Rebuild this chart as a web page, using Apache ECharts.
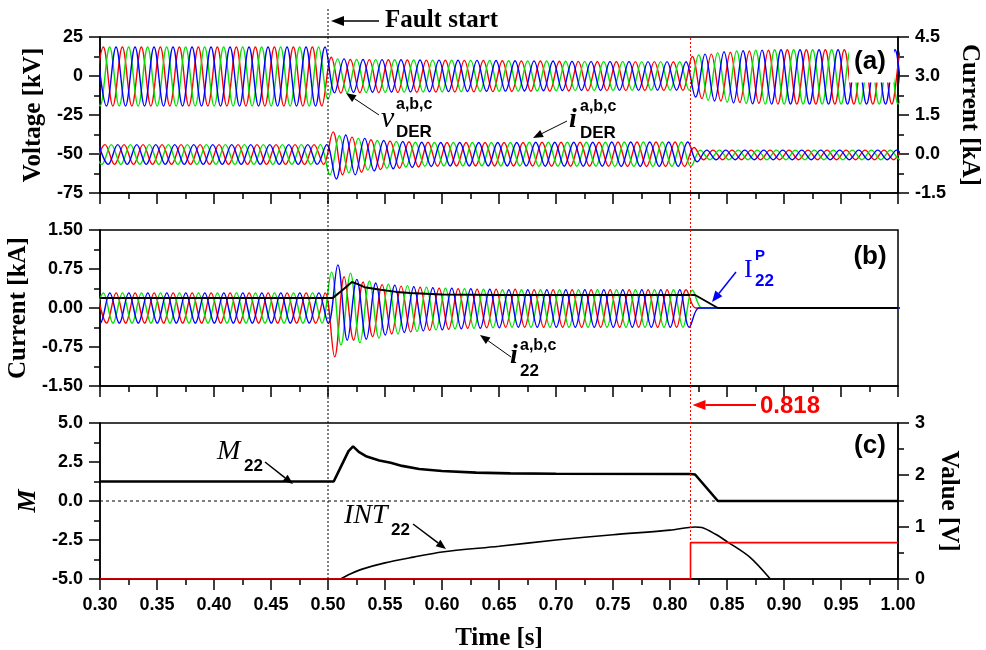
<!DOCTYPE html>
<html><head><meta charset="utf-8">
<script src="https://cdn.jsdelivr.net/npm/echarts@6/dist/echarts.min.js"></script>
<style>html,body{margin:0;padding:0;background:#fff}#c{width:986px;height:650px}</style>
</head><body><div id="c"></div>
<script>
// ---------- data ----------
const FAULT_T = 0.50, TRIP_T = 0.818;
const HALF = 1 / 120;                 // half period of the 60 Hz waveforms [s]
const xTicks = [0.30, 0.35, 0.40, 0.45, 0.50, 0.55, 0.60, 0.65, 0.70, 0.75, 0.80, 0.85, 0.90, 0.95, 1.00];

// time of first extreme and its sign for phases a (red), b (green), c (blue)
const vStart = [0.2946, 0.2918, 0.2974], vSign = [-1, 1, 1];
const iDerStart = [0.2961, 0.2933, 0.2989], iDerSign = [-1, 1, 1];
const i22Start = [0.2975, 0.29472, 0.29194], i22Sign = [1, -1, 1];

// successive half-cycle extreme magnitudes, v_DER [kV]
const vDerA = [19.2,18.6,19.2,18.6,19.2,18.6,19.2,18.6,19.2,18.6,19.2,18.6,19.2,18.6,19.2,18.6,19.2,18.6,19.2,18.6,19.2,18.6,19.2,18.6,19.2,
  12.0,10.9,10.6,10.7,10.5,10.6,10.4,10.5,10.3,10.4,10.2,10.3,10.1,10.2,10.0,10.1,9.9,10.0,9.8,9.9,9.7,9.8,9.6,9.7,9.5,9.6,9.4,9.5,9.3,9.4,9.3,9.4,9.2,9.3,9.2,9.3,9.1,9.2,
  12.5,14.5,14.0,16.0,15.2,17.0,16.0,17.5,16.5,18.0,16.8,18.0,16.8,18.0,16.8,18.0,16.8,18.0,16.8,18.0,16.8,18.0,16.8,18.0];
const vDerB = [18.6,19.2,18.6,19.2,18.6,19.2,18.6,19.2,18.6,19.2,18.6,19.2,18.6,19.2,18.6,19.2,18.6,19.2,18.6,19.2,18.6,19.2,18.6,19.2,18.6,
  15.0,11.0,10.6,10.6,10.5,10.5,10.4,10.4,10.3,10.3,10.2,10.2,10.1,10.1,10.0,10.0,9.9,9.9,9.8,9.8,9.7,9.7,9.6,9.6,9.5,9.5,9.4,9.4,9.3,9.3,9.3,9.3,9.2,9.2,9.2,9.2,9.1,9.1,
  9.2,13.5,15.5,15.0,16.8,16.0,17.5,16.5,18.0,16.8,18.0,16.8,18.0,16.8,18.0,16.8,18.0,16.8,18.0,16.8,18.0,16.8,18.0,16.8];
const vDerC = [18.6,19.2,18.6,19.2,18.6,19.2,18.6,19.2,18.6,19.2,18.6,19.2,18.6,19.2,18.6,19.2,18.6,19.2,18.6,19.2,18.6,19.2,18.6,19.2,18.6,
  10.8,11.0,10.5,10.6,10.4,10.5,10.3,10.4,10.2,10.3,10.1,10.2,10.0,10.1,9.9,10.0,9.8,9.9,9.7,9.8,9.6,9.7,9.5,9.6,9.4,9.5,9.3,9.4,9.3,9.3,9.2,9.3,9.2,9.2,9.1,9.2,9.1,9.1,
  13.5,14.0,16.0,15.5,17.2,16.2,17.8,16.6,18.0,16.8,18.0,16.8,18.0,16.8,18.0,16.8,18.0,16.8,18.0,16.8,18.0,16.8,18.0,16.8];

// i_DER [kA]
const iDerA = [0.40,0.36,0.40,0.36,0.40,0.36,0.40,0.36,0.40,0.36,0.40,0.36,0.40,0.36,0.40,0.36,0.40,0.36,0.40,0.36,0.40,0.36,0.40,0.36,0.40,
  0.85,0.80,0.65,0.70,0.55,0.60,0.50,0.55,0.47,0.50,0.45,0.47,0.44,0.46,0.44,0.46,0.44,0.46,0.44,0.46,0.44,0.46,0.45,0.47,0.45,0.47,0.45,0.47,0.45,0.47,0.46,0.48,0.46,0.48,0.46,0.48,0.46,0.48,
  0.25,0.22,0.15,0.22,0.15,0.22,0.15,0.22,0.15,0.22,0.15,0.22,0.15,0.22,0.15,0.22,0.15,0.22,0.15,0.22,0.15,0.22,0.15,0.22];
const iDerB = [0.36,0.40,0.36,0.40,0.36,0.40,0.36,0.40,0.36,0.40,0.36,0.40,0.36,0.40,0.36,0.40,0.36,0.40,0.36,0.40,0.36,0.40,0.36,0.40,0.36,
  0.80,0.70,0.72,0.60,0.62,0.52,0.55,0.48,0.50,0.45,0.47,0.44,0.46,0.44,0.46,0.44,0.46,0.44,0.46,0.44,0.46,0.45,0.47,0.45,0.47,0.45,0.47,0.45,0.47,0.45,0.48,0.46,0.48,0.46,0.48,0.46,0.48,0.46,
  0.48,0.15,0.22,0.15,0.22,0.15,0.22,0.15,0.22,0.15,0.22,0.15,0.22,0.15,0.22,0.15,0.22,0.15,0.22,0.15,0.22,0.15,0.22,0.15];
const iDerC = [0.36,0.40,0.36,0.40,0.36,0.40,0.36,0.40,0.36,0.40,0.36,0.40,0.36,0.40,0.36,0.40,0.36,0.40,0.36,0.40,0.36,0.40,0.36,0.40,0.36,
  0.96,0.73,0.80,0.60,0.65,0.52,0.57,0.48,0.52,0.45,0.48,0.44,0.46,0.44,0.46,0.44,0.46,0.44,0.46,0.44,0.46,0.45,0.47,0.45,0.47,0.45,0.47,0.45,0.47,0.46,0.48,0.46,0.48,0.46,0.48,0.46,0.48,0.46,
  0.30,0.15,0.22,0.15,0.22,0.15,0.22,0.15,0.22,0.15,0.22,0.15,0.22,0.15,0.22,0.15,0.22,0.15,0.22,0.15,0.22,0.15,0.22,0.15];

// i_22 [kA]
const i22A = [0.29,0.29,0.29,0.29,0.29,0.29,0.29,0.29,0.29,0.29,0.29,0.29,0.29,0.29,0.29,0.29,0.29,0.29,0.29,0.29,0.29,0.29,0.29,0.29,0.29,
  0.94,0.60,0.62,0.50,0.55,0.45,0.50,0.42,0.46,0.40,0.43,0.38,0.41,0.37,0.39,0.36,0.38,0.36,0.37,0.36,0.37,0.35,0.37,0.35,0.37,0.35,0.37,0.35,0.37,0.35,0.37,0.35,0.37,0.35,0.37,0.35,0.37,0.35,
  0,0,0,0,0,0,0,0,0,0,0,0,0,0,0,0,0,0,0,0,0,0,0,0];
const i22B = [0.29,0.29,0.29,0.29,0.29,0.29,0.29,0.29,0.29,0.29,0.29,0.29,0.29,0.29,0.29,0.29,0.29,0.29,0.29,0.29,0.29,0.29,0.29,0.29,0.29,
  0.69,0.71,0.67,0.67,0.52,0.58,0.46,0.50,0.43,0.45,0.40,0.42,0.38,0.40,0.37,0.39,0.36,0.38,0.35,0.37,0.35,0.37,0.35,0.37,0.35,0.37,0.35,0.37,0.35,0.37,0.35,0.37,0.35,0.37,0.35,0.37,0.35,0.37,
  0.34,0,0,0,0,0,0,0,0,0,0,0,0,0,0,0,0,0,0,0,0,0,0,0];
const i22C = [0.29,0.29,0.29,0.29,0.29,0.29,0.29,0.29,0.29,0.29,0.29,0.29,0.29,0.29,0.29,0.29,0.29,0.29,0.29,0.29,0.29,0.29,0.29,0.29,0.29,
  0.30,0.83,0.62,0.55,0.60,0.48,0.52,0.44,0.47,0.41,0.44,0.39,0.42,0.38,0.40,0.37,0.39,0.36,0.38,0.35,0.37,0.35,0.37,0.35,0.37,0.35,0.37,0.35,0.37,0.35,0.37,0.35,0.37,0.35,0.37,0.35,0.37,0.35,
  0.37,0,0,0,0,0,0,0,0,0,0,0,0,0,0,0,0,0,0,0,0,0,0,0];

// I_22^P magnitude [kA]
const i22P = [[0.30,0.19],[0.504,0.19],[0.512,0.33],[0.521,0.50],[0.526,0.46],[0.532,0.40],[0.546,0.35],[0.56,0.31],[0.572,0.29],[0.60,0.26],[0.65,0.25],[0.822,0.25],[0.842,0],[1.0,0]];
// M_22
const m22 = [[0.30,1.25],[0.505,1.25],[0.512,2.3],[0.518,3.2],[0.522,3.5],[0.527,3.15],[0.534,2.85],[0.545,2.6],[0.555,2.45],[0.565,2.25],[0.58,2.05],[0.60,1.92],[0.63,1.82],[0.66,1.77],[0.70,1.75],[0.818,1.73],[0.822,1.70],[0.842,0],[1.0,0]];
// INT_22 [V]
const int22 = [[0.511,0],[0.52,0.1],[0.53,0.19],[0.55,0.31],[0.575,0.42],[0.60,0.52],[0.65,0.63],[0.70,0.75],[0.75,0.85],[0.80,0.94],[0.822,1.0],[0.828,0.99],[0.84,0.86],[0.85,0.72],[0.87,0.42],[0.888,0]];
// trip signal [V]
const trip = [[0.30,0],[0.818,0],[0.818,0.7],[1.0,0.7]];
const zeroLine = [[0.30,0],[1.00,0]];

// ---------- chart ----------
const PHASE_COLORS = ['#ff0000', '#00e400', '#0000ff'];
const LBL = {fontFamily:'Liberation Sans', fontWeight:'bold', fontSize:18, color:'#000'};
const NAME = {fontFamily:'Liberation Serif', fontWeight:'bold', fontSize:25, color:'#000'};

function wave(start, sign, mags, color, xi, yi) {
  return {type:'line', xAxisIndex:xi, yAxisIndex:yi,
    data: mags.map((m, j) => [start + j * HALF, (j % 2 ? -sign : sign) * m]),
    smooth:0.37, showSymbol:false, symbol:'none', silent:true, animation:false,
    lineStyle:{color, width:1.4}, z:2};
}
function plain(data, color, width, xi, yi, extra) {
  return Object.assign({type:'line', xAxisIndex:xi, yAxisIndex:yi, data, showSymbol:false, symbol:'none',
    silent:true, animation:false, lineStyle:{color, width}, z:3}, extra || {});
}
function xAx(i) {
  return {type:'value', gridIndex:i, min:0.3, max:1.0, interval:0.05,
    axisLine:{show:true, onZero:false, lineStyle:{color:'#000', width:1.5}},
    axisTick:{show:true, length:11, lineStyle:{color:'#000', width:1.5}},
    minorTick:{show:true, splitNumber:2, length:6, lineStyle:{color:'#000', width:1.5}},
    splitLine:{show:false}, minorSplitLine:{show:false},
    axisLabel:{show:i === 2, margin:17, formatter:v => v.toFixed(2), ...LBL},
    name: i === 2 ? 'Time [s]' : '', nameLocation:'middle', nameGap:47, nameTextStyle:NAME};
}
function yAx(grid, pos, min, max, interval, fmt, name, nameGap, nameStyle) {
  return {type:'value', gridIndex:grid, position:pos, min, max, interval,
    axisLine:{show:true, onZero:false, lineStyle:{color:'#000', width:1.5}},
    axisTick:{show:true, length:11, lineStyle:{color:'#000', width:1.5}},
    minorTick:{show:true, splitNumber:2, length:6, lineStyle:{color:'#000', width:1.5}},
    splitLine:{show:false}, minorSplitLine:{show:false},
    axisLabel:{margin:17, formatter:fmt, ...LBL},
    name, nameLocation:'middle', nameRotate: pos === 'left' ? 90 : -90, nameGap,
    nameTextStyle: nameStyle || NAME};
}

const chart = echarts.init(document.getElementById('c'), null, {renderer:'canvas'});
const gridBase = {left:100, right:88, height:156, show:true, borderColor:'#000', borderWidth:1.5,
  backgroundColor:'transparent', containLabel:false, outerBoundsMode:'none'};

const series = [];
const vArr = [vDerA, vDerB, vDerC], dArr = [iDerA, iDerB, iDerC], iArr = [i22A, i22B, i22C];
for (let p = 0; p < 3; p++) series.push(wave(vStart[p], vSign[p], vArr[p], PHASE_COLORS[p], 0, 0));
for (let p = 0; p < 3; p++) series.push(wave(iDerStart[p], iDerSign[p], dArr[p], PHASE_COLORS[p], 0, 1));
for (let p = 0; p < 3; p++) series.push(wave(i22Start[p], i22Sign[p], iArr[p], PHASE_COLORS[p], 1, 2));
series.push(plain(i22P, '#000', 2, 1, 2, {z:4}));
series.push(plain(zeroLine, '#000', 1, 2, 3, {lineStyle:{color:'#000', width:1, type:[3,3]}}));
series.push(plain(m22, '#000', 2.6, 2, 3, {z:4}));
series.push(plain(int22, '#000', 1.6, 2, 4, {smooth:0.3}));
series.push(plain(trip, '#ff0000', 1.6, 2, 4, {z:5}));

chart.setOption({
  backgroundColor:'#fff',
  animation:false,
  grid:[Object.assign({top:37}, gridBase), Object.assign({top:230}, gridBase), Object.assign({top:423}, gridBase)],
  xAxis:[xAx(0), xAx(1), xAx(2)],
  yAxis:[
    yAx(0, 'left', -75, 25, 25, v => String(v), 'Voltage [kV]', 52),
    yAx(0, 'right', -1.5, 4.5, 1.5, v => v.toFixed(1), 'Current [kA]', 59),
    yAx(1, 'left', -1.5, 1.5, 0.75, v => v.toFixed(2), 'Current [kA]', 62),
    yAx(2, 'left', -5, 5, 2.5, v => v.toFixed(1), 'M', 58,
        {fontFamily:'Liberation Serif', fontWeight:'bold', fontStyle:'italic', fontSize:26, color:'#000'}),
    yAx(2, 'right', 0, 3, 1, v => String(v), 'Value [V]', 35)
  ],
  series
});

// ---------- annotations ----------
const xf = chart.convertToPixel({xAxisIndex:0}, FAULT_T);
const xt = chart.convertToPixel({xAxisIndex:0}, TRIP_T);
const yBottom = chart.convertToPixel({yAxisIndex:4}, 0);

function txt(x, y, text, font, fill, align) {
  return {type:'text', x, y, z:100, silent:true,
    style:{text, font, fill: fill || '#000', align: align || 'left', verticalAlign:'middle'}};
}
function arrow(x1, y1, x2, y2, color, lw, hl, hw) {
  const dx = x2 - x1, dy = y2 - y1, L = Math.hypot(dx, dy), ux = dx / L, uy = dy / L;
  const bx = x2 - ux * hl, by = y2 - uy * hl;
  return [
    {type:'line', z:100, silent:true, shape:{x1, y1, x2:bx, y2:by}, style:{stroke:color, lineWidth:lw}},
    {type:'polygon', z:100, silent:true, shape:{points:[[x2, y2], [bx - uy * hw, by + ux * hw], [bx + uy * hw, by - ux * hw]]}, style:{fill:color}}
  ];
}
const SANS_B = (s) => 'bold ' + s + 'px "Liberation Sans"';
const SERIF_I = (s) => 'italic ' + s + 'px "Liberation Serif"';

const g = [
  {type:'line', z:90, silent:true, shape:{x1:xf, y1:9, x2:xf, y2:yBottom}, style:{stroke:'#000', lineWidth:1, lineDash:[2,2]}},
  {type:'line', z:90, silent:true, shape:{x1:xt, y1:38, x2:xt, y2:yBottom}, style:{stroke:'#ff0000', lineWidth:1, lineDash:[2,2]}},
  {type:'rect', z:95, silent:true, shape:{x:849, y:38.5, width:45, height:44}, style:{fill:'#fff'}},
  txt(870, 62, '(a)', SANS_B(26), '#000', 'center'),
  txt(870, 257, '(b)', SANS_B(26), '#000', 'center'),
  txt(870, 446, '(c)', SANS_B(26), '#000', 'center'),
  txt(385, 21, 'Fault start', 'bold 25px "Liberation Serif"'),
  ...arrow(379, 21, xf + 3, 21, '#000', 1.5, 13, 5),
  // v_DER
  txt(381, 119, 'v', SERIF_I(30)),
  txt(396, 105, 'a,b,c', SANS_B(16)),
  txt(396, 132, 'DER', SANS_B(17)),
  ...arrow(379, 115, 346, 93, '#000', 1, 10, 4),
  // i_DER
  txt(569, 120, 'i', 'bold italic 28px "Liberation Serif"'),
  txt(580, 107, 'a,b,c', SANS_B(16)),
  txt(580, 133, 'DER', SANS_B(17)),
  ...arrow(567, 121, 533, 138, '#000', 1, 10, 4),
  // i_22
  txt(510, 356, 'i', 'bold italic 28px "Liberation Serif"'),
  txt(520, 346, 'a,b,c', SANS_B(16)),
  txt(520, 371, '22', SANS_B(17)),
  ...arrow(511, 357, 480, 335, '#000', 1, 10, 4),
  // I_22^P
  txt(744, 270, 'I', '26px "Liberation Serif"', '#0000ff'),
  txt(755, 256, 'P', SANS_B(15), '#0000ff'),
  txt(755, 281, '22', SANS_B(17), '#0000ff'),
  ...arrow(736, 272, 712, 302, '#0000ff', 1.5, 11, 4.5),
  // 0.818
  txt(760, 406, '0.818', SANS_B(24), '#ff0000'),
  ...arrow(756, 405, xt + 2, 405, '#ff0000', 2, 13, 5),
  // M_22
  txt(217, 452, 'M', SERIF_I(28)),
  txt(244, 466, '22', SANS_B(17)),
  ...arrow(265, 462, 293, 484, '#000', 1.5, 10, 4),
  // INT_22
  txt(344, 516, 'INT', SERIF_I(28)),
  txt(391, 530, '22', SANS_B(17)),
  ...arrow(413, 524, 446, 549, '#000', 1.5, 10, 4)
];
chart.setOption({graphic:{elements:g}});
</script></body></html>
